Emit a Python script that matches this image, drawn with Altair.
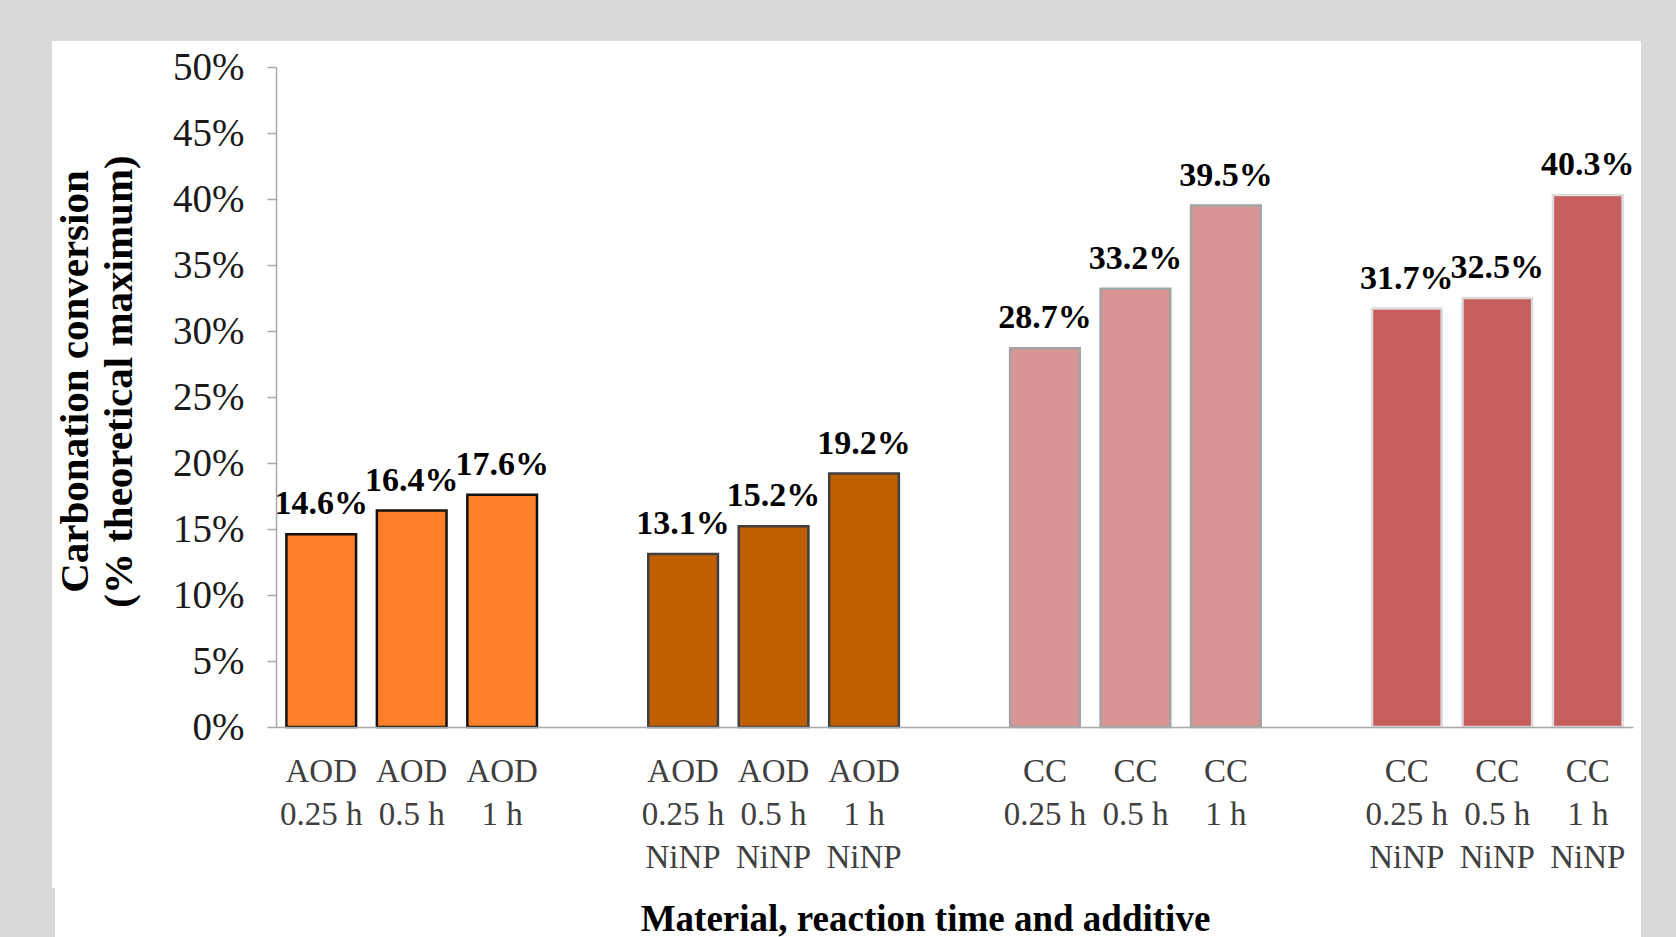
import altair as alt
import pandas as pd

# Carbonation conversion per material / reaction time / additive
materials = ["AOD", "AOD", "AOD", "AOD", "AOD", "AOD",
             "CC", "CC", "CC", "CC", "CC", "CC"]
times = ["0.25 h", "0.5 h", "1 h"] * 4
additives = ["", "", "", "NiNP", "NiNP", "NiNP",
             "", "", "", "NiNP", "NiNP", "NiNP"]
conversion = [14.6, 16.4, 17.6, 13.1, 15.2, 19.2,
              28.7, 33.2, 39.5, 31.7, 32.5, 40.3]

group_names = ["AOD", "AOD NiNP", "CC", "CC NiNP"]
group_fill = ["#fd7f27", "#bf5f00", "#d99594", "#c55e5c"]
group_stroke = ["#111111", "#404040", "#a3a3a3", "#dcdcdc"]
y_ticks = [0, 5, 10, 15, 20, 25, 30, 35, 40, 45, 50]

FONT = "Liberation Serif"


def key(m, t, a):
    return "|".join([p for p in (m, t, a) if p])


keys = [key(m, t, a) for m, t, a in zip(materials, times, additives)]
groups = [m + (" " + a if a else "") for m, a in zip(materials, additives)]

# three bars per group, one empty slot between groups
domain = []
for gi in range(4):
    domain += keys[gi * 3:gi * 3 + 3]
    if gi < 3:
        domain.append(f"gap{gi + 1}")

df = pd.DataFrame({"key": keys, "group": groups, "value": conversion})

x_enc = alt.X(
    "key:N",
    scale=alt.Scale(domain=domain, paddingInner=0.23, paddingOuter=0.115),
    axis=alt.Axis(
        title="Material, reaction time and additive",
        titleFont=FONT, titleFontSize=37, titleFontWeight="bold",
        titleColor="#000000", titleX=649, titleY=203,
        titleAlign="center", titleBaseline="alphabetic",
        labelExpr="indexof(datum.value, 'gap') == 0 ? '' : split(datum.value, '|')",
        labelFont=FONT, labelFontSize=33, labelColor="#404040",
        labelLineHeight=43, labelAngle=0, labelPadding=28,
        labelBaseline="top", labelAlign="center",
        ticks=False, tickSize=0,
        domainColor="#a9a9a9", domainWidth=1.5, zindex=1,
    ),
)

y_enc = alt.Y(
    "value:Q",
    scale=alt.Scale(domain=[0, 50], nice=False),
    axis=alt.Axis(
        title=["Carbonation conversion", "(% theoretical maximum)"],
        titleFont=FONT, titleFontSize=41, titleFontWeight="bold",
        titleColor="#000000", titleAngle=-90, titleX=-201, titleY=314,
        titleAlign="center", titleBaseline="middle", titleLineHeight=44,
        values=y_ticks, labelExpr="datum.value + '%'",
        labelFont=FONT, labelFontSize=39, labelColor="#1a1a1a",
        labelPadding=23, tickSize=9, tickColor="#a9a9a9", tickWidth=1.5,
        domainColor="#a9a9a9", domainWidth=1.5, grid=False, zindex=1,
    ),
)

# white panel on the grey page
panel = alt.Chart(alt.Data(values=[{"x": 0}])).mark_rect(color="white").encode(
    x=alt.value(-224), x2=alt.value(1365), y=alt.value(-26), y2=alt.value(821)
)
panel_low = alt.Chart(alt.Data(values=[{"x": 0}])).mark_rect(color="white").encode(
    x=alt.value(-221), x2=alt.value(1365), y=alt.value(820), y2=alt.value(870)
)

bars = alt.Chart(df).mark_bar(strokeWidth=2.5).encode(
    x=x_enc,
    y=y_enc,
    fill=alt.Fill("group:N", scale=alt.Scale(domain=group_names, range=group_fill), legend=None),
    stroke=alt.Stroke("group:N", scale=alt.Scale(domain=group_names, range=group_stroke), legend=None),
)

labels = alt.Chart(df).transform_calculate(
    txt="format(datum.value, '.1f') + '%'"
).mark_text(
    font=FONT, fontSize=34, fontWeight="bold", color="#000000",
    baseline="alphabetic", dy=-20,
).encode(
    x=alt.X("key:N", scale=alt.Scale(domain=domain)),
    y=alt.Y("value:Q"),
    text="txt:N",
)

chart = alt.layer(panel, panel_low, bars, labels).properties(
    width=1357,
    height=660,
    autosize=alt.AutoSizeParams(type="none"),
    padding={"left": 276, "top": 67, "right": 43, "bottom": 210},
    background="#d9d9d9",
).configure_view(stroke=None)

chart.save("out.html", embed_options={"renderer": "svg", "actions": False})
